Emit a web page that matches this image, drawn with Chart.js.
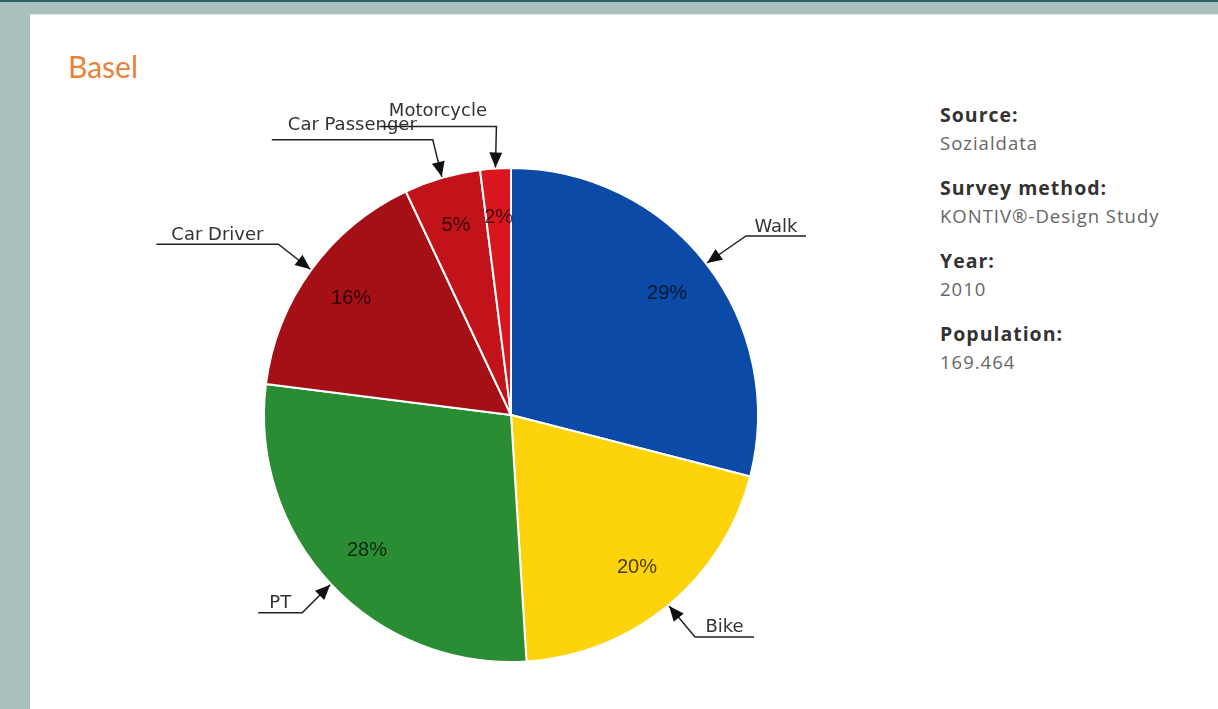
<!DOCTYPE html>
<html lang="en">
<head>
  <meta charset="UTF-8">
  <title>Basel - modal split</title>
  <script src="https://cdn.jsdelivr.net/npm/chart.js"></script>
  <style>
    html, body { margin: 0; padding: 0; }
    body { width: 1218px; height: 709px; background: #a9c0bf; position: relative; overflow: hidden; border-top: 2px solid #2e6360; box-sizing: border-box; }
    .panel { position: absolute; left: 30px; top: 12px; right: 0; bottom: 0; background: #fff; border-top: 1px solid #e4e9e9; }
    h1 { position: absolute; left: 68px; top: 46px; margin: 0; font: 400 30px Lato, sans-serif; color: #e8823a; }
    .chart-box { position: absolute; left: 30px; top: 12px; width: 900px; height: 697px; }
    .info { position: absolute; left: 940px; top: 99px; margin: 0; font-family: "Open Sans", sans-serif; letter-spacing: 1px; }
    .info dt { font-weight: 700; font-size: 19.5px; color: #333; line-height: 28px; }
    .info dd { margin: 0 0 17px 0; font-size: 18.5px; color: #666; line-height: 28px; }
  </style>
</head>
<body>
  <div class="panel"></div>
  <h1>Basel</h1>
  <div class="chart-box"><canvas id="chart"></canvas></div>
  <dl class="info">
    <dt>Source:</dt><dd>Sozialdata</dd>
    <dt>Survey method:</dt><dd>KONTIV®-Design Study</dd>
    <dt>Year:</dt><dd>2010</dd>
    <dt>Population:</dt><dd>169.464</dd>
  </dl>

  <script>
    const modes = ["Walk", "Bike", "PT", "Car Driver", "Car Passenger", "Motorcycle"];
    const shares = [29, 20, 28, 16, 5, 2];

    const sliceColors = ["#0b4aa6", "#fdd30b", "#2b8d33", "#a50f16", "#c2131b", "#d9151d"];

    // callout: elbow offset from arrow tip, horizontal run (negative = to the left), text gap
    const callouts = [
      { dx: 39, dy: -27, run: 60, gap: 4 },
      { dx: 26, dy: 31, run: 59, gap: 5 },
      { dx: -28, dy: 28, run: -44, gap: 5 },
      { dx: -32, dy: -25, run: -122, gap: 4 },
      { dx: -9, dy: -37, run: -161, gap: 10 },
      { dx: 1, dy: -41, run: -117, gap: 10 }
    ];

    const pieLabels = {
      id: "pieLabels",
      afterDatasetsDraw(chart) {
        const ctx = chart.ctx;
        const arcs = chart.getDatasetMeta(0).data;
        ctx.save();
        arcs.forEach((arc, i) => {
          const p = arc.getProps(["x", "y", "startAngle", "endAngle", "outerRadius"], true);
          const mid = (p.startAngle + p.endAngle) / 2;
          const cos = Math.cos(mid), sin = Math.sin(mid);

          // percentage inside
          ctx.font = "20px 'Liberation Sans', Arial, sans-serif";
          ctx.fillStyle = "rgba(0,0,0,0.72)";
          ctx.textAlign = "center";
          ctx.textBaseline = "middle";
          const lr = p.outerRadius * 0.8;
          ctx.fillText(shares[i] + "%", p.x + cos * lr, p.y + sin * lr);

          // callout arrow
          const c = callouts[i];
          const tx = p.x + cos * (p.outerRadius + 1);
          const ty = p.y + sin * (p.outerRadius + 1);
          const ex = tx + c.dx, ey = ty + c.dy;
          ctx.strokeStyle = "#222";
          ctx.lineWidth = 1.5;
          ctx.beginPath();
          ctx.moveTo(ex + c.run, ey);
          ctx.lineTo(ex, ey);
          ctx.lineTo(tx, ty);
          ctx.stroke();

          const ang = Math.atan2(ty - ey, tx - ex);
          const len = 15, half = 6.5;
          const bx = tx - Math.cos(ang) * len, by = ty - Math.sin(ang) * len;
          ctx.fillStyle = "#111";
          ctx.beginPath();
          ctx.moveTo(tx, ty);
          ctx.lineTo(bx - Math.sin(ang) * half, by + Math.cos(ang) * half);
          ctx.lineTo(bx + Math.sin(ang) * half, by - Math.cos(ang) * half);
          ctx.closePath();
          ctx.fill();

          ctx.font = "18px 'DejaVu Sans', sans-serif";
          ctx.fillStyle = "#333";
          ctx.textBaseline = "alphabetic";
          ctx.fillText(modes[i], ex + c.run / 2, ey - c.gap);
        });
        ctx.restore();
      }
    };

    new Chart(document.getElementById("chart"), {
      type: "pie",
      data: {
        labels: modes,
        datasets: [{
          data: shares,
          backgroundColor: sliceColors,
          borderColor: "#ffffff",
          borderWidth: 2
        }]
      },
      options: {
        responsive: true,
        maintainAspectRatio: false,
        animation: false,
        layout: { padding: { left: 233, top: 153, right: 171, bottom: 48 } },
        plugins: {
          legend: { display: false },
          tooltip: { enabled: false }
        }
      },
      plugins: [pieLabels]
    });
  </script>
</body>
</html>
